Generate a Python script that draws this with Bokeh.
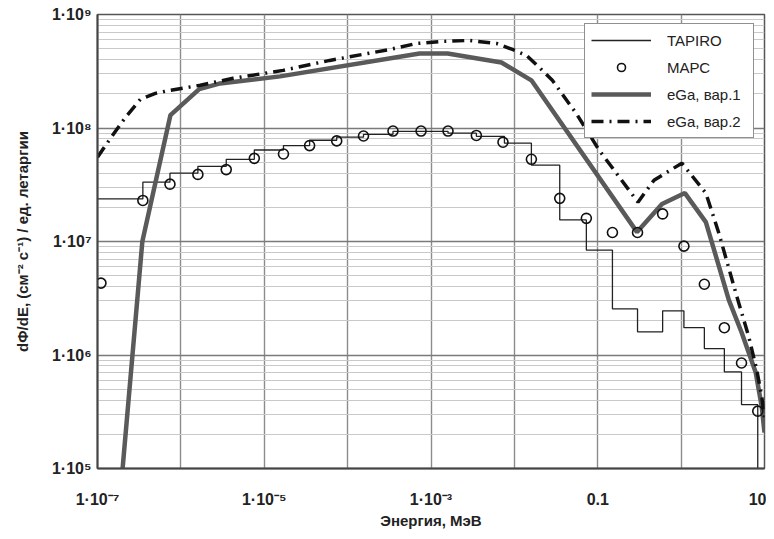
from bokeh.plotting import figure
from bokeh.models import FixedTicker, Legend, LegendItem, Range1d
from bokeh.embed import file_html
from bokeh.resources import INLINE

# ---- data ----
tapiro_edges = [1e-7, 3.5e-7, 7.4e-7, 1.6e-6, 3.5e-6, 7.6e-6, 1.7e-5, 3.5e-5, 7.4e-5,
                1.55e-4, 3.5e-4, 7.6e-4, 1.6e-3, 3.5e-3, 7.6e-3, 1.6e-2, 3.5e-2, 7.3e-2,
                0.15, 0.30, 0.60, 1.08, 1.9, 3.3, 5.3, 8.3]
tapiro_vals = [2.37e7, 3.33e7, 4.0e7, 4.6e7, 5.3e7, 6.4e7, 7.0e7, 7.8e7, 8.3e7, 8.8e7,
               9.35e7, 9.35e7, 9.0e7, 8.45e7, 7.35e7, 4.7e7, 1.55e7, 8.4e6, 2.55e6,
               1.6e6, 2.45e6, 1.74e6, 1.14e6, 7.1e5, 3.66e5, 1e4]

mars_e = [1.1e-7, 3.5e-7, 7.4e-7, 1.6e-6, 3.5e-6, 7.6e-6, 1.7e-5, 3.5e-5, 7.4e-5,
          1.55e-4, 3.5e-4, 7.6e-4, 1.6e-3, 3.5e-3, 7.3e-3, 1.6e-2, 3.5e-2, 7.3e-2,
          0.15, 0.30, 0.60, 1.08, 1.9, 3.3, 5.3, 8.3]
mars_v = [4.3e6, 2.3e7, 3.2e7, 3.9e7, 4.3e7, 5.4e7, 5.9e7, 7.0e7, 7.7e7, 8.5e7, 9.4e7,
          9.4e7, 9.4e7, 8.6e7, 7.5e7, 5.3e7, 2.4e7, 1.6e7, 1.2e7, 1.2e7, 1.75e7, 9.1e6,
          4.2e6, 1.74e6, 8.5e5, 3.2e5]

ega1_e = [2.0e-7, 3.45e-7, 7.5e-7, 1.66e-6, 2.96e-6, 1.55e-5, 7.3e-4, 1.58e-3, 7.0e-3,
          1.6e-2, 0.296, 0.59, 1.11, 1.98, 2.83, 3.73, 5.33, 7.85, 9.27, 10.0]
ega1_v = [1.0e5, 1.0e7, 1.3e8, 2.2e8, 2.47e8, 2.85e8, 4.54e8, 4.54e8, 3.78e8, 2.63e8,
          1.21e7, 2.14e7, 2.67e7, 1.48e7, 6.1e6, 3.06e6, 1.57e6, 7.0e5, 3.5e5, 2.07e5]

ega2_e = [1.0e-7, 1.43e-7, 2.16e-7, 3.27e-7, 4.94e-7, 7.46e-7, 1.71e-6, 4.23e-6, 1.68e-5,
          6.1e-5, 1.52e-4, 3.2e-4, 6.7e-4, 1.38e-3, 2.9e-3, 6.1e-3, 9.5e-3, 1.39e-2,
          1.99e-2, 2.85e-2, 5.5e-2, 0.104, 0.304, 0.473, 1.02, 1.98, 2.83, 4.53, 6.47,
          8.07, 9.27, 10.0]
ega2_v = [5.53e7, 8.1e7, 1.24e8, 1.79e8, 2.02e8, 2.15e8, 2.38e8, 2.74e8, 3.22e8, 3.94e8,
          4.45e8, 4.92e8, 5.56e8, 5.79e8, 5.91e8, 5.56e8, 4.92e8, 4.37e8, 3.42e8, 2.63e8,
          1.35e8, 6.37e7, 2.22e7, 3.47e7, 4.9e7, 2.67e7, 1.19e7, 3.52e6, 1.45e6, 7.4e5,
          4.3e5, 2.8e5]

x_decades = [1e-7, 1e-6, 1e-5, 1e-4, 1e-3, 1e-2, 1e-1, 1.0, 10.0]
x_tick_values = [1e-7, 1e-5, 1e-3, 0.1, 10.0]
x_tick_labels = ["1·10⁻⁷", "1·10⁻⁵", "1·10⁻³", "0.1", "10"]
y_tick_values = [1e5, 1e6, 1e7, 1e8, 1e9]
y_tick_labels = ["1·10⁵", "1·10⁶", "1·10⁷", "1·10⁸", "1·10⁹"]
y_minor = [k * d for d in [1e5, 1e6, 1e7, 1e8] for k in range(2, 10)]

series_names = ["TAPIRO", "МАРС", "eGa, вар.1", "eGa, вар.2"]

FONT = "Liberation Sans"

p = figure(width=766, height=531, x_axis_type="log", y_axis_type="log",
           x_range=Range1d(1e-7, 10), y_range=Range1d(1e5, 1e9),
           output_backend="svg", toolbar_location=None,
           min_border_left=97, min_border_right=2, min_border_top=14, min_border_bottom=62)
p.background_fill_color = "white"
p.border_fill_color = "white"
p.outline_line_color = "#555555"
p.outline_line_width = 1.5

# grids
p.xgrid.ticker = FixedTicker(ticks=x_decades, minor_ticks=[])
p.xgrid.grid_line_color = "#8c8c8c"
p.xgrid.grid_line_width = 1.4
p.ygrid.ticker = FixedTicker(ticks=y_tick_values, minor_ticks=y_minor)
p.ygrid.grid_line_color = "#7a7a7a"
p.ygrid.grid_line_width = 1.4
p.ygrid.minor_grid_line_color = "#c9c9c9"
p.ygrid.minor_grid_line_width = 1.1

# axes
for ax in (p.xaxis[0], p.yaxis[0]):
    ax.major_tick_out = 0
    ax.major_tick_in = 0
    ax.minor_tick_out = 0
    ax.minor_tick_in = 0
    ax.axis_line_color = "#444444"
    ax.axis_line_width = 2
    ax.major_label_text_font = FONT
    ax.major_label_text_font_style = "bold"
    ax.major_label_text_font_size = "16px"
    ax.major_label_text_color = "#222222"
    ax.axis_label_text_font = FONT
    ax.axis_label_text_font_style = "bold"
    ax.axis_label_text_font_size = "15px"
    ax.axis_label_text_color = "#222222"

p.xaxis.ticker = FixedTicker(ticks=x_tick_values, minor_ticks=[])
p.xaxis.major_label_overrides = dict(zip(x_tick_values, x_tick_labels))
p.xaxis.major_label_standoff = 22
p.xaxis.axis_label = "Энергия, МэВ"
p.xaxis.axis_label_standoff = 1

p.yaxis.ticker = FixedTicker(ticks=y_tick_values, minor_ticks=[])
p.yaxis.major_label_overrides = dict(zip(y_tick_values, y_tick_labels))
p.yaxis.major_label_standoff = 6
p.yaxis.axis_label = "dΦ/dE, (см⁻² с⁻¹) / ед. летаргии"
p.yaxis.axis_label_standoff = 18

# series
r_tap = p.step(tapiro_edges, tapiro_vals, mode="after", line_color="#222222", line_width=1.3)
r_e1 = p.line(ega1_e, ega1_v, line_color="#5a5a5a", line_width=4.5)
r_e2 = p.line(ega2_e, ega2_v, line_color="#111111", line_width=3.5, line_dash="12 6 2 6")
r_mars = p.scatter(mars_e, mars_v, marker="circle", size=10, fill_alpha=0,
                   line_color="#111111", line_width=1.6)

legend = Legend(items=[
    LegendItem(label=series_names[0], renderers=[r_tap]),
    LegendItem(label=series_names[1], renderers=[r_mars]),
    LegendItem(label=series_names[2], renderers=[r_e1]),
    LegendItem(label=series_names[3], renderers=[r_e2]),
], location=(487, 330))
legend.label_text_font = FONT
legend.label_text_font_size = "15px"
legend.label_text_color = "#222222"
legend.glyph_width = 60
legend.glyph_height = 20
legend.label_height = 20
legend.label_width = 80
legend.label_standoff = 16
legend.spacing = 7
legend.padding = 6
legend.margin = 0
legend.border_line_color = "#222222"
legend.border_line_width = 1.5
legend.background_fill_color = "white"
legend.background_fill_alpha = 1.0
p.add_layout(legend)

open("out.html", "w").write(file_html(p, INLINE))
